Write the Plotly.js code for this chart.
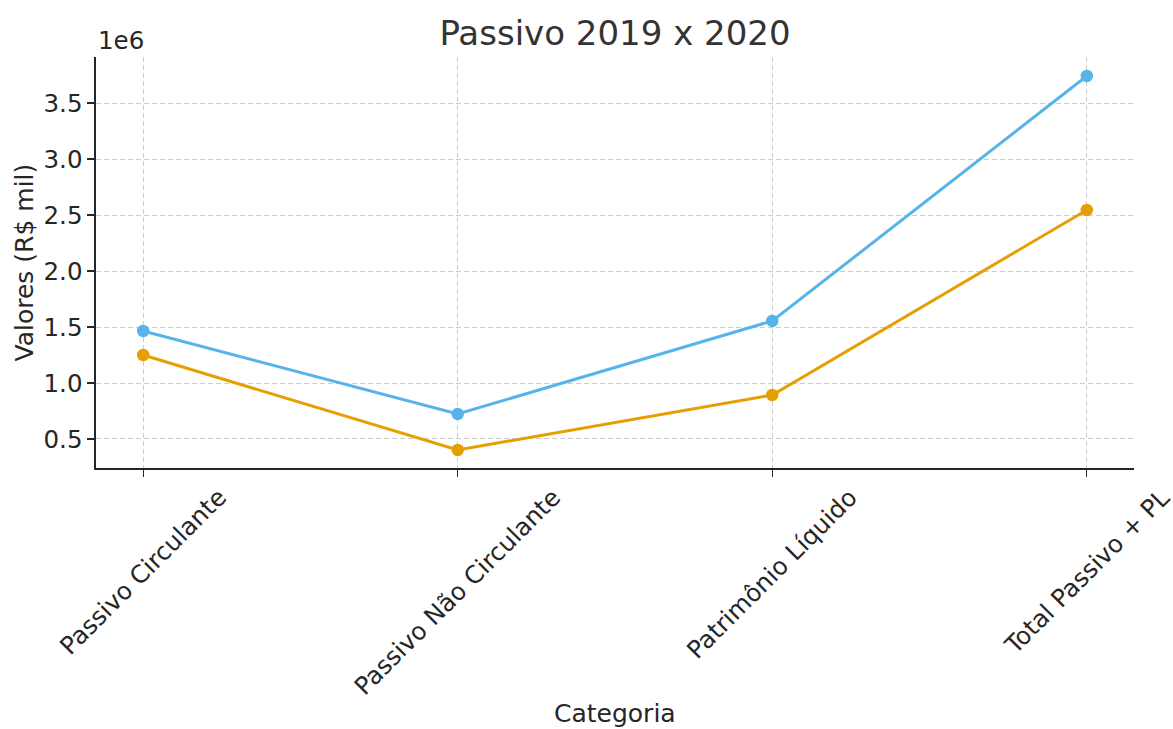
<!DOCTYPE html>
<html>
<head>
<meta charset="utf-8">
<script src="https://cdn.plot.ly/plotly-3.0.1.min.js"></script>
<style>html,body{margin:0;padding:0;background:#fff;}#chart{width:1173px;height:729px;}</style>
</head>
<body>
<div id="chart"></div>
<script>
const categories = ["Passivo Circulante", "Passivo Não Circulante", "Patrimônio Líquido", "Total Passivo + PL"];
const values2019 = [1464000, 723000, 1554000, 3741000];
const values2020 = [1250000, 402000, 893000, 2545000];
const yTickVals = [500000, 1000000, 1500000, 2000000, 2500000, 3000000, 3500000];
const yTickText = ["0.5", "1.0", "1.5", "2.0", "2.5", "3.0", "3.5"];

const font = "DejaVu Sans, sans-serif";
const txt = "#262626";
const xIdx = categories.map((c, i) => i);
const traces = [
  {x: xIdx, y: values2019, mode: "lines+markers", name: "2019",
   line: {color: "#56B4E9", width: 3}, marker: {color: "#56B4E9", size: 12.5}},
  {x: xIdx, y: values2020, mode: "lines+markers", name: "2020",
   line: {color: "#E69F00", width: 3}, marker: {color: "#E69F00", size: 12.5}}
];

const catAnnotations = categories.map((c, i) => ({
  text: c, x: i, xref: "x", y: 0, yref: "paper", yshift: -12,
  xanchor: "center", yanchor: "top", textangle: -45, showarrow: false,
  font: {family: font, size: 24.5, color: txt}
}));

const layout = {
  width: 1173, height: 729,
  margin: {l: 96, r: 39, t: 57, b: 261},
  paper_bgcolor: "#fff", plot_bgcolor: "#fff",
  showlegend: false,
  font: {family: font, color: txt, size: 24},
  title: {text: "Passivo 2019 x 2020", font: {family: font, size: 34, color: "#333333"},
          x: 0.5, xref: "paper", xanchor: "center", y: 1 - 33/729, yref: "container", yanchor: "middle"},
  xaxis: {
    range: [-0.15, 3.15], tickvals: xIdx, showticklabels: false,
    showgrid: true, gridcolor: "#cccccc", griddash: "5px,3px", gridwidth: 1,
    showline: true, linecolor: txt, linewidth: 1.6, mirror: false,
    ticks: "outside", ticklen: 7, tickcolor: txt, tickwidth: 1.2,
    zeroline: false, automargin: false
  },
  yaxis: {
    range: [241000, 3911000], tickvals: yTickVals, ticktext: yTickText,
    showgrid: true, gridcolor: "#cccccc", griddash: "5px,3px", gridwidth: 1,
    showline: true, linecolor: txt, linewidth: 1.6,
    ticks: "outside", ticklen: 7, tickcolor: txt, tickwidth: 1.2,
    tickfont: {family: font, size: 24.5, color: txt},
    zeroline: false, automargin: false
  },
  annotations: catAnnotations.concat([
    {text: "1e6", xref: "paper", yref: "paper", x: 0, y: 1, xanchor: "left", yanchor: "bottom",
     showarrow: false, font: {family: font, size: 24.5, color: txt}, yshift: 0},
    {text: "Categoria", xref: "paper", yref: "paper", x: 0.5, y: 0, xanchor: "center", yanchor: "middle",
     yshift: -245, showarrow: false, font: {family: font, size: 25, color: txt}},
    {text: "Valores (R$ mil)", xref: "paper", yref: "paper", x: 0, y: 0.5, xanchor: "center", yanchor: "middle",
     xshift: -72, textangle: -90, showarrow: false, font: {family: font, size: 25, color: txt}}
  ])
};
Plotly.newPlot("chart", traces, layout, {displayModeBar: false, staticPlot: true});
</script>
</body>
</html>
